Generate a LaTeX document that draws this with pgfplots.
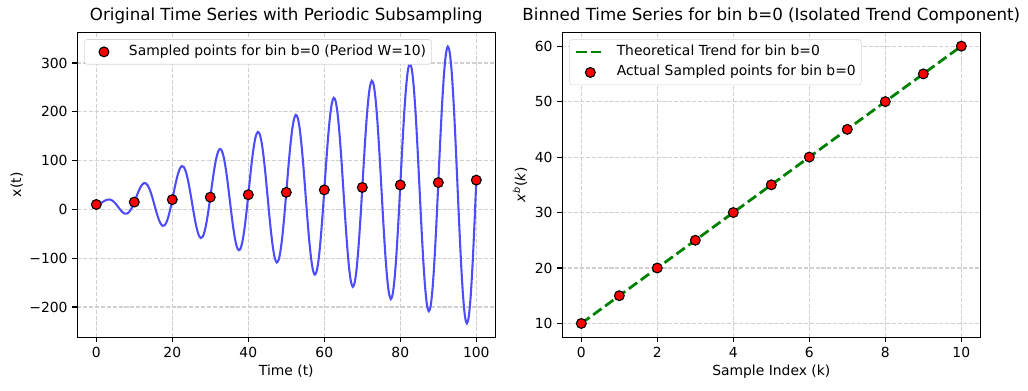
\documentclass[border=0pt]{standalone}
\usepackage{fontspec}
\setmainfont{DejaVu Sans}
\usepackage{pgfplots}
\usepackage{pgfplotstable}
\pgfplotsset{compat=1.18}
\definecolor{gridc}{RGB}{208,208,208}
\definecolor{lineblue}{RGB}{77,77,255}
\definecolor{mplgreen}{RGB}{0,128,0}
\definecolor{legframe}{RGB}{214,214,214}

\pgfplotstableread{
t x
0 10
0.5 10.71
1 12.26
1.5 14.39
2 16.71
2.5 18.75
3 20.06
3.5 20.24
4 19.05
4.5 16.42
5 12.5
5.5 7.65
6 2.42
6.5 -2.53
7 -6.47
7.5 -8.75
8 -8.83
8.5 -6.38
9 -1.37
9.5 5.94
10 15
10.5 24.98
11 34.90
11.5 43.66
12 50.24
12.5 53.75
13 53.59
13.5 49.52
14 41.69
14.5 30.69
15 17.5
15.5 3.38
16 -10.21
16.5 -21.80
17 -30.00
17.5 -33.75
18 -32.36
18.5 -25.65
19 -14.00
19.5 1.67
20 20
20.5 39.25
21 57.53
21.5 72.93
22 83.77
22.5 88.75
23 87.12
23.5 78.79
24 64.32
24.5 44.96
25 22.5
25.5 -0.89
26 -22.85
26.5 -41.07
27 -53.54
27.5 -58.75
28 -55.89
28.5 -44.92
29 -26.64
29.5 -2.60
30 25
30.5 53.53
31 80.16
31.5 102.20
32 117.30
32.5 123.75
33 120.65
33.5 108.06
34 86.95
34.5 59.23
35 27.5
35.5 -5.16
36 -35.48
36.5 -60.34
37 -77.07
37.5 -83.75
38 -79.42
38.5 -64.19
39 -39.27
39.5 -6.87
40 30
40.5 67.80
41 102.80
41.5 131.47
42 150.83
42.5 158.75
43 154.19
43.5 137.33
44 109.59
44.5 73.50
45 32.5
45.5 -9.43
46 -48.11
46.5 -79.61
47 -100.60
47.5 -108.75
48 -102.95
48.5 -83.46
49 -51.90
49.5 -11.14
50 35
50.5 82.07
51 125.43
51.5 160.74
52 184.36
52.5 193.75
53 187.72
53.5 166.60
54 132.22
54.5 87.77
55 37.5
55.5 -13.70
56 -60.75
56.5 -98.88
57 -124.13
57.5 -133.75
58 -126.48
58.5 -102.73
59 -64.54
59.5 -15.41
60 40
60.5 96.34
61 148.06
61.5 190.01
62 217.90
62.5 228.75
63 221.25
63.5 195.87
64 154.85
64.5 102.04
65 42.5
65.5 -17.97
66 -73.38
66.5 -118.15
67 -147.66
67.5 -158.75
68 -150.02
68.5 -122.00
69 -77.17
69.5 -19.68
70 45
70.5 110.61
71 170.70
71.5 219.28
72 251.43
72.5 263.75
73 254.78
73.5 225.14
74 177.49
74.5 116.32
75 47.5
75.5 -22.24
76 -86.02
76.5 -137.42
77 -171.19
77.5 -183.75
78 -173.55
78.5 -141.27
79 -89.81
79.5 -23.95
80 50
80.5 124.88
81 193.33
81.5 248.55
82 284.96
82.5 298.75
83 288.31
83.5 254.41
84 200.12
84.5 130.59
85 52.5
85.5 -26.51
86 -98.65
86.5 -156.69
87 -194.73
87.5 -208.75
88 -197.08
88.5 -160.54
89 -102.44
89.5 -28.22
90 55
90.5 139.15
91 215.97
91.5 277.83
92 318.49
92.5 333.75
93 321.84
93.5 283.68
94 222.76
94.5 144.86
95 57.5
95.5 -30.78
96 -111.28
96.5 -175.96
97 -218.26
97.5 -233.75
98 -220.61
98.5 -179.81
99 -115.07
99.5 -32.49
100 60
}\series

\pgfplotstableread{
t x
0 10
10 15
20 20
30 25
40 30
50 35
60 40
70 45
80 50
90 55
100 60
}\sampled

\pgfplotstableread{
k x
0 10
1 15
2 20
3 25
4 30
5 35
6 40
7 45
8 50
9 55
10 60
}\binned

\pgfplotsset{
  mystyle/.style={
    scale only axis, width=300.96pt, height=219.6pt,
    axis line style={line width=0.8pt},
    every tick/.style={black, line width=0.8pt},
    tick align=outside, tick pos=left, major tick length=3.5pt,
    grid=major,
    grid style={gridc, dash pattern=on 2.96pt off 1.28pt, line width=0.8pt},
    tick label style={font=\fontsize{10}{12}\selectfont},
    label style={font=\fontsize{10}{12}\selectfont},
    title style={font=\fontsize{12}{14}\selectfont, inner sep=0pt},
    /pgf/number format/assume math mode=true,
    legend cell align=left,
    legend style={draw=legframe, rounded corners=2pt, fill=white,
      font=\fontsize{10}{12}\selectfont,
      at={(0,1)}, xshift=5pt, yshift=-5pt, anchor=north west,
      inner xsep=4pt, inner ysep=4pt, row sep=5pt, column sep=8pt,
      nodes={inner sep=0pt, text height=7.4pt, text depth=2.4pt}},
  },
  redmarks/.style={only marks, mark=*, mark size=3.54pt,
    mark options={fill=red, draw=black, line width=0.8pt},
    legend image code/.code={\path[draw=none, fill=none] (0pt,-3pt) rectangle (20pt,3pt);
      \draw[##1, mark repeat=2, mark phase=2] plot coordinates {(0pt,0pt)(10pt,0pt)(20pt,0pt)};}},
  greenline/.style={mplgreen, line width=2pt, dash pattern=on 7.4pt off 3.2pt,
    legend image code/.code={\path[draw=none, fill=none] (0pt,-3pt) rectangle (20pt,3pt);
      \draw[##1] (0pt,0pt) -- (20pt,0pt);}},
}

\begin{document}
\begin{tikzpicture}
\useasboundingbox (0,0) rectangle (740.16pt,280.8pt);

\begin{axis}[mystyle,
  at={(55.66pt,37.94pt)}, anchor=south west,
  xmin=-5, xmax=105, ymin=-262.2, ymax=363,
  xtick={0,20,40,60,80,100},
  ytick={-200,-100,0,100,200,300},
  yticklabels={−200,−100,0,100,200,300},
  title={Original Time Series with Periodic Subsampling},
  xlabel={Time (t)}, ylabel={x(t)},
  xlabel style={at={(axis description cs:0.5,0)}, yshift=-24.7pt, anchor=center},
  ylabel style={at={(axis description cs:-0.145,0.5)}, anchor=center, rotate=0},
]
\addplot[lineblue, line width=1.5pt, smooth, forget plot] table[x=t, y=x] {\series};
\addplot[redmarks] table[x=t, y=x] {\sampled};
\addlegendentry{Sampled points for bin b=0 (Period W=10)}
\end{axis}

\begin{axis}[mystyle,
  at={(404.86pt,37.94pt)}, anchor=south west,
  xmin=-0.5, xmax=10.5, ymin=7.5, ymax=62.5,
  xtick={0,2,4,6,8,10},
  ytick={10,20,30,40,50,60},
  title={Binned Time Series for bin b=0 (Isolated Trend Component)},
  xlabel={Sample Index (k)}, ylabel={\textit{x}\textsuperscript{\textit{b}}(\textit{k})},
  xlabel style={at={(axis description cs:0.5,0)}, yshift=-24.7pt, anchor=center},
  ylabel style={at={(axis description cs:-0.1013,0.5)}, anchor=center, rotate=0},
]
\addplot[greenline] table[x=k, y=x] {\binned};
\addlegendentry{Theoretical Trend for bin b=0}
\addplot[redmarks] table[x=k, y=x] {\binned};
\addlegendentry{Actual Sampled points for bin b=0}
\end{axis}
\end{tikzpicture}
\end{document}
